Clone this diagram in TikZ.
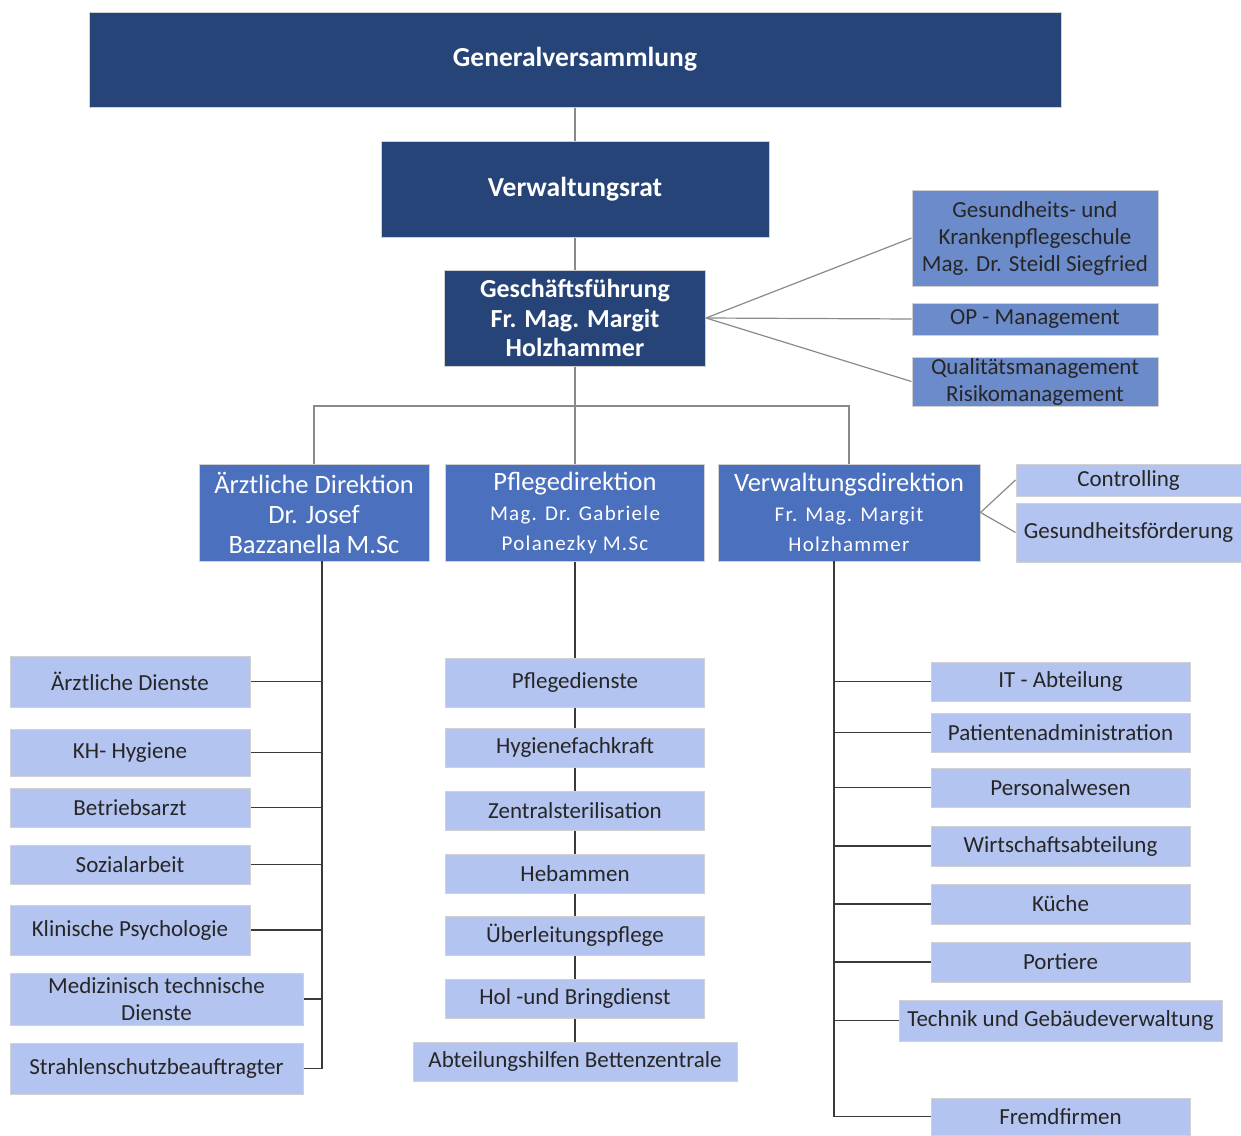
\documentclass[tikz,border=0pt]{standalone}
\usepackage{fontspec}
\setmainfont{Carlito}
\usetikzlibrary{positioning}

\definecolor{navy}{HTML}{264478}
\definecolor{dirblue}{HTML}{4A70BE}
\definecolor{staffblue}{HTML}{6C8BCA}
\definecolor{unitblue}{HTML}{B4C4F0}
\definecolor{linegray}{HTML}{8A8A8A}
\definecolor{linedark}{HTML}{3A3A3A}

\newcommand{\dirsub}{\fontsize{21}{28}\selectfont\addfontfeatures{LetterSpace=6}}

\tikzset{
  orgbox/.style={inner sep=0pt, align=center, draw=black!18, line width=1pt},
  topbox/.style={orgbox, fill=navy, text=white, font=\fontsize{26}{29.5}\selectfont\bfseries},
  dirbox/.style={orgbox, fill=dirblue, text=white, font=\fontsize{26.5}{30}\selectfont},
  staffbox/.style={orgbox, fill=staffblue, text=black!85, font=\fontsize{23}{27}\selectfont},
  unitbox/.style={orgbox, fill=unitblue, text=black!85, font=\fontsize{23}{27}\selectfont},
  upline/.style={draw=linegray, line width=1.2pt},
  downline/.style={draw=linedark, line width=1.8pt},
}

\begin{document}
\begin{tikzpicture}[x=1pt, y=-1pt]
    \useasboundingbox (0,0) rectangle (1241,1135);

    % leadership
    \node[topbox] (gen_vers) at (575,59.5)  [minimum width=972, minimum height=95, font=\fontsize{27.5}{30}\selectfont\bfseries] {Generalversammlung};
    \node[topbox] (verw_rat) at (575,189)   [minimum width=388, minimum height=96, font=\fontsize{27.5}{30}\selectfont\bfseries] {Verwaltungsrat};
    \node[topbox] (gf)       at (575,318)   [minimum width=261, minimum height=96] {Geschäftsführung\\Fr. Mag. Margit\\Holzhammer};

    \node[staffbox] (schule)  at (1035,238)   [minimum width=246, minimum height=96] {Gesundheits- und\\Krankenpflegeschule\\Mag. Dr. Steidl Siegfried};
    \node[staffbox] (op_mgmt) at (1035,319)   [minimum width=246, minimum height=32] {OP - Management};
    \node[staffbox] (qm)      at (1035,381.5) [minimum width=246, minimum height=49] {Qualitätsmanagement\\Risikomanagement};

    % directors
    \node[dirbox] (aerzt_dir)  at (314,512.5) [minimum width=230, minimum height=97] {Ärztliche Direktion\\Dr. Josef\\Bazzanella M.Sc};
    \node[dirbox] (pflege_dir) at (575,512.5) [minimum width=259, minimum height=97] {Pflegedirektion\\{\dirsub Mag. Dr. Gabriele}\\{\dirsub Polanezky M.Sc}};
    \node[dirbox] (verw_dir)   at (849,512.5) [minimum width=262, minimum height=97] {Verwaltungsdirektion\\{\dirsub Fr. Mag. Margit}\\{\dirsub Holzhammer}};

    \node[unitbox] (controlling) at (1128.5,480)   [minimum width=225, minimum height=32] {Controlling};
    \node[unitbox] (ges_foerd)   at (1128.5,532.5) [minimum width=225, minimum height=59] {Gesundheitsförderung};

    % medical units
    \node[unitbox] (aerzt_dienste) at (130,681.5)   [minimum width=240, minimum height=51] {Ärztliche Dienste};
    \node[unitbox] (kh_hyg)        at (130,752.5)   [minimum width=240, minimum height=47] {KH- Hygiene};
    \node[unitbox] (betriebsarzt)  at (130,807.5)   [minimum width=240, minimum height=39] {Betriebsarzt};
    \node[unitbox] (sozial)        at (130,864.5)   [minimum width=240, minimum height=39] {Sozialarbeit};
    \node[unitbox] (psych)         at (130,930)     [minimum width=240, minimum height=50] {Klinische Psychologie};
    \node[unitbox] (med_tech)      at (156.5,999)   [minimum width=293, minimum height=52] {Medizinisch technische\\Dienste};
    \node[unitbox] (strahlen)      at (156.5,1068.5)[minimum width=293, minimum height=51] {Strahlenschutzbeauftragter};

    % nursing units
    \node[unitbox] (pflegedienste) at (575,682.5)  [minimum width=259, minimum height=49] {Pflegedienste};
    \node[unitbox] (hyg_fach)      at (575,747.5)  [minimum width=259, minimum height=39] {Hygienefachkraft};
    \node[unitbox] (zentral_ster)  at (575,810.5)  [minimum width=259, minimum height=39] {Zentralsterilisation};
    \node[unitbox] (hebammen)      at (575,873.5)  [minimum width=259, minimum height=39] {Hebammen};
    \node[unitbox] (ueberleit)     at (575,935.5)  [minimum width=259, minimum height=39] {Überleitungspflege};
    \node[unitbox] (hol_bring)     at (575,998.5)  [minimum width=259, minimum height=39] {Hol -und Bringdienst};
    \node[unitbox] (abt_hilfen)    at (575,1061.5) [minimum width=324, minimum height=39] {Abteilungshilfen Bettenzentrale};

    % administration units
    \node[unitbox] (it_abt)      at (1060.5,681.5)  [minimum width=259, minimum height=39] {IT - Abteilung};
    \node[unitbox] (pat_admin)   at (1060.5,732.5)  [minimum width=259, minimum height=39] {Patientenadministration};
    \node[unitbox] (personal)    at (1060.5,787.5)  [minimum width=259, minimum height=39] {Personalwesen};
    \node[unitbox] (wirtschaft)  at (1060.5,846)    [minimum width=259, minimum height=40] {Wirtschaftsabteilung};
    \node[unitbox] (kueche)      at (1060.5,904)    [minimum width=259, minimum height=40] {Küche};
    \node[unitbox] (portiere)    at (1060.5,962)    [minimum width=259, minimum height=40] {Portiere};
    \node[unitbox] (technik)     at (1060.5,1020.5) [minimum width=323, minimum height=41] {Technik und Gebäudeverwaltung};
    \node[unitbox] (fremd)       at (1060.5,1116.5) [minimum width=259, minimum height=37] {Fremdfirmen};

    \coordinate (bus)     at (575,406);
    \coordinate (l_top)   at (322,561);
    \coordinate (l_bot)   at (322,1068.5);
    \coordinate (r_top)   at (834,561);
    \coordinate (r_bot)   at (834,1116.5);

    % upper connectors
    \path[upline] (gen_vers) edge (verw_rat)
                  (verw_rat) edge (gf)
                  (gf)       edge (pflege_dir)
                  (gf.east)  edge (schule.west)
                             edge (op_mgmt.west)
                             edge (qm.west)
                  (verw_dir.east) edge (controlling.west)
                                  edge (ges_foerd.west);
    \draw[upline] (aerzt_dir.north) |- (bus) -| (verw_dir.north);

    % lower connectors
    \draw[downline] (l_top) -- (l_bot);
    \foreach \unit in {aerzt_dienste, kh_hyg, betriebsarzt, sozial, psych, med_tech, strahlen}
        \draw[downline] (\unit.east) -- (\unit.east -| l_top);

    \draw[downline] (pflege_dir) -- (pflegedienste);
    \foreach \upper/\lower in {pflegedienste/hyg_fach, hyg_fach/zentral_ster, zentral_ster/hebammen,
                               hebammen/ueberleit, ueberleit/hol_bring, hol_bring/abt_hilfen}
        \draw[downline] (\upper) -- (\lower);

    \draw[downline] (r_top) -- (r_bot);
    \foreach \unit in {it_abt, pat_admin, personal, wirtschaft, kueche, portiere, technik, fremd}
        \draw[downline] (\unit.west) -- (\unit.west -| r_top);
\end{tikzpicture}
\end{document}
